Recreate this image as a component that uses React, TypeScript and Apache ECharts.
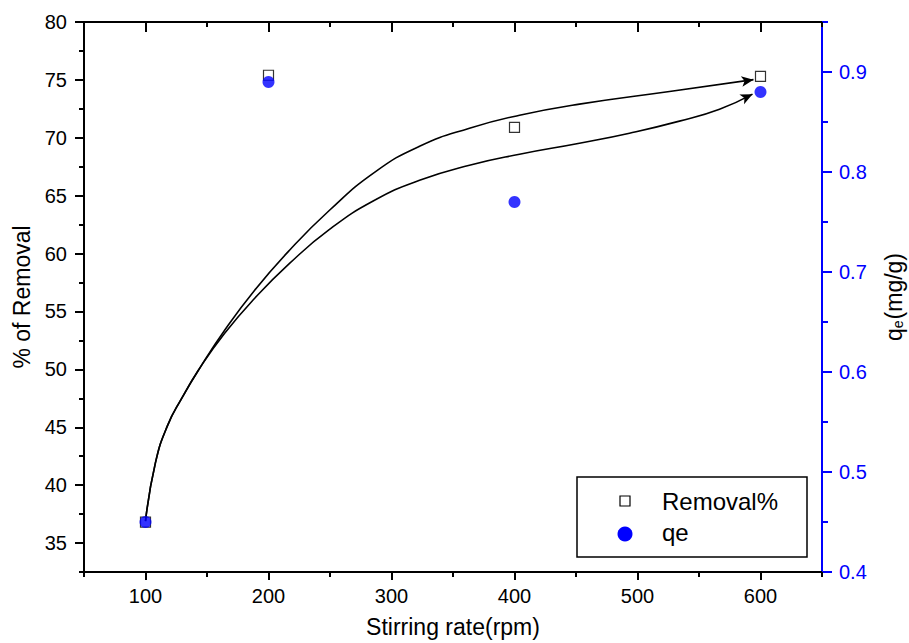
import React, { useEffect, useRef } from "react";
import * as echarts from "echarts";

const stirringRate = [100, 200, 400, 600];
const removalPct = [36.8, 75.4, 70.9, 75.3];
const qeValues = [0.45, 0.89, 0.77, 0.88];

// hand-drawn guide curves (in x / left-axis units)
const upperCurve: number[][] = [
  [100, 36.9], [108.1, 41.94], [117.9, 45.14], [129.3, 47.47], [143.9, 50.07],
  [164.2, 53.36], [188.6, 56.82], [217.1, 60.29], [249.6, 63.74], [286.2, 67.02],
  [322.8, 69.27], [363.4, 70.83], [404.1, 71.95], [452.8, 72.91], [526.0, 74.0],
  [594.3, 75.02],
];
const lowerCurve: number[][] = [
  [100, 36.9], [108.1, 41.94], [117.9, 45.14], [129.3, 47.47], [143.9, 50.07],
  [164.2, 53.1], [188.6, 56.12], [217.1, 59.15], [249.6, 62.09], [286.2, 64.6],
  [322.8, 66.33], [363.4, 67.63], [404.1, 68.58], [452.8, 69.53], [493.5, 70.4],
  [534.1, 71.44], [566.7, 72.47], [593.5, 73.77],
];

const xMajor = [100, 200, 300, 400, 500, 600];
const xMinor = [50, 150, 250, 350, 450, 550, 650];
const yLeftMajor = [35, 40, 45, 50, 55, 60, 65, 70, 75, 80];
const yLeftMinor = [32.5, 37.5, 42.5, 47.5, 52.5, 57.5, 62.5, 67.5, 72.5, 77.5];
const yRightMajor = [0.4, 0.5, 0.6, 0.7, 0.8, 0.9];
const yRightMinor = [0.45, 0.55, 0.65, 0.75, 0.85, 0.95];

const FONT = '"Liberation Sans", Arial, sans-serif';
const BLUE = "#0000FF";

export default function App() {
  const ref = useRef<HTMLDivElement>(null);
  useEffect(() => {
    if (!ref.current) return;
    const chart = echarts.init(ref.current, undefined, { renderer: "svg" });

    const tickOnlyX = (pos: string, values: number[], len: number, inside: boolean) => ({
      type: "value",
      position: pos,
      min: 50,
      max: 650,
      axisLine: { show: false },
      axisTick: { show: true, customValues: values, length: len, inside, lineStyle: { color: "#000", width: 2 } },
      axisLabel: { show: false },
      splitLine: { show: false },
    });
    const tickOnlyY = (pos: string, min: number, max: number, values: number[], len: number, color: string) => ({
      type: "value",
      position: pos,
      min,
      max,
      axisLine: { show: false },
      axisTick: { show: true, customValues: values, length: len, lineStyle: { color, width: 2 } },
      axisLabel: { show: false },
      splitLine: { show: false },
    });

    const removalData = stirringRate.map((x, i) => [x, removalPct[i]]);
    const qeData = stirringRate.map((x, i) => [x, qeValues[i]]);

    const curveData = (pts: number[][], rot: number) =>
      pts.map((p, i) =>
        i === pts.length - 1
          ? { value: p, symbol: "arrow", symbolSize: [8, 12], symbolRotate: rot, itemStyle: { color: "#000" } }
          : { value: p, symbol: "none" }
      );

    chart.setOption({
      animation: false,
      backgroundColor: "#fff",
      textStyle: { fontFamily: FONT },
      grid: { left: 84, right: 87, top: 22, bottom: 71, containLabel: false, outerBoundsMode: "none" },
      xAxis: [
        {
          type: "value",
          position: "bottom",
          min: 50,
          max: 650,
          name: "Stirring rate(rpm)",
          nameLocation: "middle",
          nameGap: 43,
          nameTextStyle: { fontSize: 23, color: "#000", fontFamily: FONT },
          axisLine: { show: true, lineStyle: { color: "#000", width: 2 } },
          axisTick: { show: true, customValues: xMajor, length: 8, lineStyle: { color: "#000", width: 2 } },
          axisLabel: { show: true, customValues: xMajor, fontSize: 20, color: "#000", margin: 14, fontFamily: FONT },
          splitLine: { show: false },
        },
        tickOnlyX("bottom", xMinor, 5, false),
        {
          type: "value",
          position: "top",
          min: 50,
          max: 650,
          axisLine: { show: true, lineStyle: { color: "#000", width: 2 } },
          axisTick: { show: true, customValues: xMajor, length: 10, inside: true, lineStyle: { color: "#000", width: 2 } },
          axisLabel: { show: false },
          splitLine: { show: false },
        },
        tickOnlyX("top", xMinor, 5, true),
      ],
      yAxis: [
        {
          type: "value",
          position: "left",
          min: 32.5,
          max: 80,
          name: "% of Removal",
          nameLocation: "middle",
          nameGap: 50,
          nameTextStyle: { fontSize: 23, color: "#000", fontFamily: FONT },
          axisLine: { show: true, lineStyle: { color: "#000", width: 2 } },
          axisTick: { show: true, customValues: yLeftMajor, length: 9, lineStyle: { color: "#000", width: 2 } },
          axisLabel: { show: true, customValues: yLeftMajor, fontSize: 20, color: "#000", margin: 17, fontFamily: FONT },
          splitLine: { show: false },
        },
        {
          type: "value",
          position: "right",
          min: 0.4,
          max: 0.95,
          name: "q{s|e}(mg/g)",
          nameLocation: "middle",
          nameRotate: 90,
          nameGap: 60,
          nameTextStyle: {
            fontSize: 23,
            color: "#000",
            fontFamily: FONT,
            rich: { s: { fontSize: 14, color: "#000", fontFamily: FONT, verticalAlign: "bottom", padding: [6, 1, 0, 0] } },
          },
          axisLine: { show: true, lineStyle: { color: BLUE, width: 2 } },
          axisTick: { show: true, customValues: yRightMajor, length: 10, lineStyle: { color: BLUE, width: 2 } },
          axisLabel: { show: true, customValues: yRightMajor, fontSize: 20, color: BLUE, margin: 17, fontFamily: FONT },
          splitLine: { show: false },
        },
        tickOnlyY("left", 32.5, 80, yLeftMinor, 5, "#000"),
        tickOnlyY("right", 0.4, 0.95, yRightMinor, 6, BLUE),
      ],
      series: [
        {
          name: "upperCurve",
          type: "line",
          xAxisIndex: 0,
          yAxisIndex: 0,
          data: curveData(upperCurve, -81),
          smooth: 0.5,
          symbol: "none",
          showSymbol: true,
          lineStyle: { color: "#000", width: 1.6 },
          itemStyle: { color: "#000" },
          z: 3,
        },
        {
          name: "lowerCurve",
          type: "line",
          xAxisIndex: 0,
          yAxisIndex: 0,
          data: curveData(lowerCurve, -64),
          smooth: 0.5,
          symbol: "none",
          showSymbol: true,
          lineStyle: { color: "#000", width: 1.6 },
          itemStyle: { color: "#000" },
          z: 3,
        },
        {
          name: "Removal%",
          type: "scatter",
          xAxisIndex: 0,
          yAxisIndex: 0,
          data: removalData,
          symbol: "rect",
          symbolSize: 10,
          itemStyle: { color: "rgba(255,255,255,0)", borderColor: "#000", borderWidth: 1.2 },
          z: 4,
        },
        {
          name: "qe",
          type: "scatter",
          xAxisIndex: 0,
          yAxisIndex: 1,
          data: qeData,
          symbol: "circle",
          symbolSize: 12,
          itemStyle: { color: BLUE },
          z: 5,
        },
      ],
      graphic: [
        {
          type: "group",
          z: 100,
          children: [
            { type: "rect", shape: { x: 577, y: 477, width: 230, height: 80 }, style: { fill: "#fff", stroke: "#000", lineWidth: 1.5 } },
            { type: "rect", shape: { x: 620, y: 496, width: 10, height: 10 }, style: { fill: "#fff", stroke: "#000", lineWidth: 1.2 } },
            { type: "circle", shape: { cx: 625, cy: 534, r: 7.5 }, style: { fill: BLUE } },
            { type: "text", x: 662, y: 501, style: { text: "Removal%", fontSize: 24, fontFamily: FONT, fill: "#000", verticalAlign: "middle" } },
            { type: "text", x: 662, y: 532, style: { text: "qe", fontSize: 24, fontFamily: FONT, fill: "#000", verticalAlign: "middle" } },
          ],
        },
      ],
    });
    return () => chart.dispose();
  }, []);
  return <div ref={ref} style={{ position: "absolute", left: 0, top: 0, width: 909, height: 643 }} />;
}
